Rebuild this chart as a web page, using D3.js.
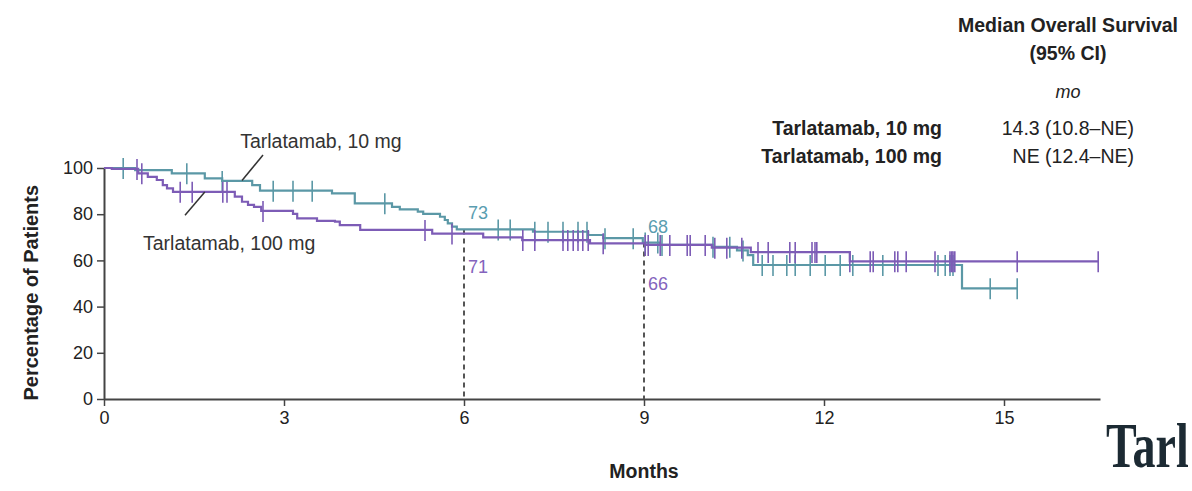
<!DOCTYPE html>
<html>
<head>
<meta charset="utf-8">
<script src="https://cdn.jsdelivr.net/npm/d3@7"></script>
<style>
	body { margin: 0; background: #fff; }
	svg text { font-family: "Liberation Sans", Arial, sans-serif; }
</style>
</head>
<body>
<script>
// step points (month of drop, survival % after drop)
var tealTimes  = [0, 0.52, 1.13, 1.68, 1.97, 2.47, 2.6, 3.8, 4.18, 4.8, 4.93, 5.23, 5.32, 5.6, 5.68, 5.73, 5.8, 5.88, 7.15, 8.07, 8.32, 8.98, 9.27, 10.15, 10.55, 10.73, 10.82, 14.3, 15.22];
var tealValues = [100, 99.1, 97.7, 95.5, 94.4, 92.6, 90.2, 89.0, 84.7, 83.2, 82.1, 81.1, 80.1, 78.9, 77.5, 76.0, 74.6, 73.4, 72.4, 71.0, 69.6, 67.7, 66.7, 65.9, 64.3, 62.3, 58.0, 47.9, 47.9];

var purpleTimes  = [0, 0.13, 0.57, 0.73, 0.88, 0.98, 1.05, 1.15, 2.18, 2.3, 2.4, 2.5, 2.62, 3.15, 3.22, 3.55, 3.85, 3.93, 4.27, 5.47, 6.32, 6.97, 8.1, 9.02, 10.13, 10.78, 12.43, 16.57];
var purpleValues = [100, 99.6, 97.7, 96.2, 94.8, 92.6, 91.2, 89.7, 87.6, 85.4, 84.0, 83.2, 81.4, 80.1, 78.2, 77.1, 76.8, 75.3, 73.2, 71.6, 70.0, 68.8, 67.4, 66.7, 65.5, 63.6, 59.6, 59.6];

// censored patients (months)
var tealCensor = [0.32, 1.38, 1.97, 2.82, 3.15, 3.47, 4.68, 6.57, 6.77, 7.18, 7.4, 7.65, 7.9, 8.05, 8.35, 8.82, 9.02, 9.23, 9.3, 10.15, 10.43, 10.65, 10.97, 11.15, 11.38, 11.52, 11.77, 12.02, 12.27, 12.48, 12.98, 13.9, 14.02, 14.1, 14.15, 14.77, 15.22];
var purpleCensor = [0.55, 0.63, 1.27, 1.47, 1.98, 2.05, 2.65, 5.35, 5.8, 6.98, 7.18, 7.65, 7.73, 7.82, 7.9, 7.98, 8.07, 8.32, 9.02, 9.07, 9.27, 9.43, 9.72, 9.77, 10.02, 10.18, 10.38, 10.63, 10.9, 11.07, 11.43, 11.52, 11.8, 11.85, 11.88, 12.43, 12.77, 12.82, 13.18, 13.23, 13.37, 13.85, 14.1, 14.13, 14.15, 14.18, 15.22, 16.57];

var xTicks = [0, 3, 6, 9, 12, 15];
var yTicks = [0, 20, 40, 60, 80, 100];

// landmark labels
var landmarkMonths = [6, 9];
var tealLandmark = ['73', '68'];
var purpleLandmark = ['71', '66'];

var legendNames = ['Tarlatamab, 10 mg', 'Tarlatamab, 100 mg'];
var legendMedians = ['14.3 (10.8\u2013NE)', 'NE (12.4\u2013NE)'];

var teal = '#5b98a6',
	purple = '#7d5cb6';

var svg = d3.select('body').append('svg')
	.attr('width', 1192)
	.attr('height', 491);

var x = d3.scaleLinear().domain([0, 16.6]).range([104, 1100]);
var y = d3.scaleLinear().domain([0, 100]).range([399, 168]);

// axes
var yAxis = svg.append('g')
	.attr('transform', 'translate(104,0)')
	.call(d3.axisLeft(y).tickValues(yTicks).tickSize(7).tickSizeOuter(0).tickPadding(4));
yAxis.selectAll('text').style('font-size', '18px').attr('fill', '#222');

var xAxis = svg.append('g')
	.attr('transform', 'translate(0,399)')
	.call(d3.axisBottom(x).tickValues(xTicks).tickSize(7).tickSizeOuter(0).tickPadding(5));
xAxis.selectAll('text').style('font-size', '18px').attr('fill', '#222');

svg.selectAll('.domain').attr('stroke', '#444').attr('stroke-width', 2);
svg.selectAll('.tick line').attr('stroke', '#444').attr('stroke-width', 1.5);

// axis titles
svg.append('text')
	.attr('x', x(9))
	.attr('y', 478)
	.attr('text-anchor', 'middle')
	.style('font-size', '19.5px')
	.style('font-weight', 'bold')
	.attr('fill', '#222')
	.text('Months');

svg.append('text')
	.attr('transform', 'translate(38,' + y(46) + ') rotate(-90)')
	.attr('text-anchor', 'middle')
	.style('font-size', '20px')
	.style('font-weight', 'bold')
	.attr('fill', '#222')
	.text('Percentage of Patients');

// helper: step value at time
var valueAt = function(times, values, t) {
	var i = d3.bisectRight(times, t) - 1;
	return values[Math.max(0, i)];
}

// dashed landmark lines
landmarkMonths.forEach(function(m) {
	svg.append('line')
		.attr('x1', x(m)).attr('x2', x(m))
		.attr('y1', y(valueAt(tealTimes, tealValues, m)))
		.attr('y2', y(0))
		.attr('stroke', '#555')
		.attr('stroke-width', 2)
		.attr('stroke-dasharray', '5,4');
});

var line = d3.line()
	.x(function(d) { return x(d[0]); })
	.y(function(d) { return y(d[1]); })
	.curve(d3.curveStepAfter);

var drawCurve = function(times, values, censor, colour) {
	var g = svg.append('g');
	g.append('path')
		.datum(d3.zip(times, values))
		.attr('d', line)
		.attr('fill', 'none')
		.attr('stroke', colour)
		.attr('stroke-width', 2.2);

	g.selectAll('line')
		.data(censor).enter()
		.append('line')
		.attr('x1', function(d) { return x(d); })
		.attr('x2', function(d) { return x(d); })
		.attr('y1', function(d) { return y(valueAt(times, values, d)) - 10; })
		.attr('y2', function(d) { return y(valueAt(times, values, d)) + 11; })
		.attr('stroke', colour)
		.attr('stroke-width', 1.6);
}

drawCurve(tealTimes, tealValues, tealCensor, teal);
drawCurve(purpleTimes, purpleValues, purpleCensor, purple);

// landmark numbers
landmarkMonths.forEach(function(m, i) {
	svg.append('text')
		.attr('x', x(m) + 4)
		.attr('y', y(valueAt(tealTimes, tealValues, m)) - 10)
		.style('font-size', '18px')
		.attr('fill', '#5a9db0')
		.text(tealLandmark[i]);
	svg.append('text')
		.attr('x', x(m) + 4)
		.attr('y', y(valueAt(purpleTimes, purpleValues, m)) + (i == 0 ? 39 : 47))
		.style('font-size', '18px')
		.attr('fill', '#8463bd')
		.text(purpleLandmark[i]);
});

// curve labels with leader lines
svg.append('line')
	.attr('x1', x(2.65)).attr('y1', y(105.6))
	.attr('x2', x(2.3)).attr('y2', y(94.6))
	.attr('stroke', '#333').attr('stroke-width', 1.5);
svg.append('text')
	.attr('x', x(2.27))
	.attr('y', y(108.5))
	.style('font-size', '19.5px')
	.attr('fill', '#333')
	.text(legendNames[0]);

svg.append('line')
	.attr('x1', x(1.35)).attr('y1', y(79.5))
	.attr('x2', x(1.68)).attr('y2', y(89.6))
	.attr('stroke', '#333').attr('stroke-width', 1.5);
svg.append('text')
	.attr('x', x(0.65))
	.attr('y', y(64.5))
	.style('font-size', '19.5px')
	.attr('fill', '#333')
	.text(legendNames[1]);

// legend block
var legend = svg.append('g').attr('fill', '#222');
legend.append('text')
	.attr('x', 1178).attr('y', 32)
	.attr('text-anchor', 'end')
	.style('font-size', '19.5px').style('font-weight', 'bold')
	.text('Median Overall Survival');
legend.append('text')
	.attr('x', 1068).attr('y', 60)
	.attr('text-anchor', 'middle')
	.style('font-size', '19.5px').style('font-weight', 'bold')
	.text('(95% CI)');
legend.append('text')
	.attr('x', 1068).attr('y', 98)
	.attr('text-anchor', 'middle')
	.style('font-size', '18px').style('font-style', 'italic')
	.text('mo');

for (var i = 0; i < 2; i++) {
	legend.append('text')
		.attr('x', 942).attr('y', 135 + i * 28)
		.attr('text-anchor', 'end')
		.style('font-size', '19.5px').style('font-weight', 'bold')
		.text(legendNames[i]);
	legend.append('text')
		.attr('x', 1134).attr('y', 135 + i * 28)
		.attr('text-anchor', 'end')
		.style('font-size', '19.5px')
		.text(legendMedians[i]);
}

// cut-off heading at bottom right (only its first letters are in frame)
svg.append('text')
	.attr('transform', 'translate(1106,467) scale(0.72,1)')
	.style('font-family', '"Liberation Serif", "DejaVu Serif", serif')
	.style('font-size', '64px')
	.style('font-weight', 'bold')
	.attr('fill', '#1c2a33')
	.text('Tarl');
</script>
</body>
</html>
